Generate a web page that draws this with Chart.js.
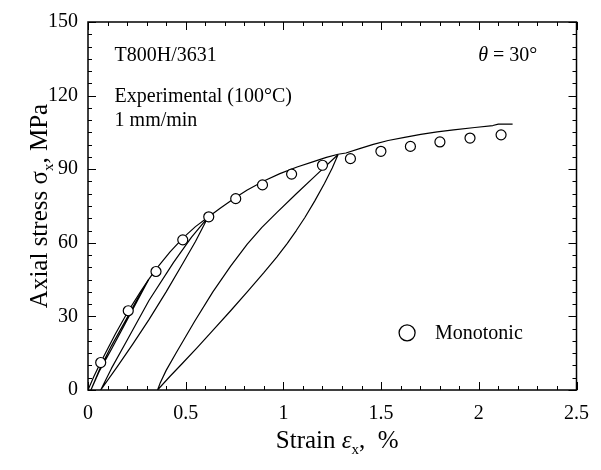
<!DOCTYPE html>
<html>
<head>
<meta charset="utf-8">
<script src="https://cdn.jsdelivr.net/npm/chart.js@4.4.1/dist/chart.umd.min.js"></script>
<style>
  html, body { margin: 0; padding: 0; background: #ffffff; }
  #wrap { width: 601px; height: 470px; }
</style>
</head>
<body>
<div id="wrap"><canvas id="chart" width="601" height="470"></canvas></div>
<script>
// Monotonic test (open circles)
const monoStrain = [0.065, 0.206, 0.348, 0.485, 0.618, 0.756, 0.893, 1.042, 1.200, 1.343, 1.499, 1.650, 1.801, 1.955, 2.114];
const monoStress = [11.2, 32.3, 48.3, 61.2, 70.6, 78.0, 83.6, 88.0, 91.6, 94.3, 97.3, 99.3, 101.1, 102.7, 104.0];

// Cyclic test: loading envelope
const envStrain = [0, 0.03, 0.065, 0.14, 0.206, 0.27, 0.31, 0.347, 0.42, 0.488, 0.55, 0.614,
                   0.68, 0.755, 0.815, 0.90, 0.982, 1.07, 1.15, 1.22, 1.28, 1.32, 1.39, 1.46,
                   1.536, 1.62, 1.703, 1.787, 1.871, 1.98, 2.072, 2.10, 2.173];
const envStress = [0, 5.5, 11.3, 22.8, 32.2, 40.2, 45.0, 49.2, 56.3, 62.1, 66.6, 70.4,
                   74.3, 78.5, 81.5, 85.2, 88.2, 90.9, 93.0, 94.8, 96.1, 96.6, 98.4, 100.1,
                   101.7, 103.0, 104.2, 105.2, 106.0, 107.0, 107.8, 108.4, 108.4];

// Cycle 1 (peak about 45 MPa): unloading then reloading
const loop1Strain = [0.31, 0.25, 0.19, 0.12, 0.06, 0.015, 0.06, 0.12, 0.19, 0.25, 0.31];
const loop1Stress = [45.0, 36.0, 27.0, 16.6, 8.0, 0, 8.6, 18.0, 28.0, 36.8, 45.0];

// Cycle 2 (peak about 70 MPa)
const loop2Strain = [0.614, 0.55, 0.488, 0.40, 0.312, 0.23, 0.15, 0.065, 0.12, 0.20, 0.312, 0.438, 0.53, 0.614];
const loop2Stress = [70.4, 60.5, 52.0, 40.0, 28.7, 18.8, 9.5, 0, 8.8, 20.3, 36.5, 52.0, 62.3, 70.4];

// Cycle 3 (peak about 96 MPa)
const loop3Strain = [1.28, 1.25, 1.21, 1.16, 1.11, 1.066, 1.02, 0.966, 0.90, 0.815, 0.73, 0.639, 0.56, 0.48, 0.42, 0.356,
                     0.37, 0.40, 0.45, 0.546, 0.639, 0.73, 0.815, 0.89, 0.966, 1.066, 1.17, 1.28];
const loop3Stress = [96.0, 90.5, 84.2, 77.0, 70.3, 65.0, 59.8, 54.2, 47.8, 40.0, 32.3, 24.3, 17.4, 10.6, 5.6, 0,
                     3.0, 8.0, 15.0, 28.0, 40.0, 50.5, 59.5, 66.3, 72.3, 80.0, 87.8, 96.0];

// Axis ticks
const xTickStep = 0.5, xMinorStep = 0.1;
const yTickStep = 30, yMinorStep = 5;

const SERIF = '"Liberation Serif", "DejaVu Serif", serif';

function pts(xs, ys) { return xs.map((x, i) => ({ x: x, y: ys[i] })); }

function curve(label, xs, ys) {
  return {
    label: label,
    data: pts(xs, ys),
    showLine: true,
    borderColor: '#000',
    borderWidth: 1.2,
    borderJoinStyle: 'round',
    pointRadius: 0,
    pointHoverRadius: 0,
    fill: false,
    tension: 0
  };
}

// measure / draw a run of text pieces (for subscripts and italics)
function richWidth(ctx, parts) {
  let w = 0;
  parts.forEach(p => { ctx.font = p.f; w += ctx.measureText(p.t).width; });
  return w;
}
function drawRich(ctx, parts, x, y) {
  let cx = x;
  parts.forEach(p => {
    ctx.font = p.f;
    ctx.fillText(p.t, cx, y + (p.dy || 0));
    cx += ctx.measureText(p.t).width;
  });
}

const framePlugin = {
  id: 'frameAndText',
  afterDraw(chart) {
    const ctx = chart.ctx;
    const xs = chart.scales.x, ys = chart.scales.y;
    const a = chart.chartArea;
    ctx.save();
    ctx.strokeStyle = '#000';
    ctx.fillStyle = '#000';

    // inward tick marks on all four sides
    ctx.lineWidth = 1;
    ctx.beginPath();
    const nx = Math.round((xs.max - xs.min) / xMinorStep);
    for (let i = 0; i <= nx; i++) {
      const v = xs.min + i * xMinorStep;
      const px = Math.round(xs.getPixelForValue(v)) + 0.5;
      const major = Math.abs(v / xTickStep - Math.round(v / xTickStep)) < 1e-6;
      const len = major ? 8 : 4;
      ctx.moveTo(px, a.bottom); ctx.lineTo(px, a.bottom - len);
      ctx.moveTo(px, a.top); ctx.lineTo(px, a.top + len);
    }
    const ny = Math.round((ys.max - ys.min) / yMinorStep);
    for (let i = 0; i <= ny; i++) {
      const v = ys.min + i * yMinorStep;
      const py = Math.round(ys.getPixelForValue(v)) + 0.5;
      const major = v % yTickStep === 0;
      const len = major ? 8 : 4;
      ctx.moveTo(a.left, py); ctx.lineTo(a.left + len, py);
      ctx.moveTo(a.right, py); ctx.lineTo(a.right - len, py);
    }
    ctx.stroke();

    // frame
    ctx.lineWidth = 1.5;
    ctx.strokeRect(a.left, a.top, a.right - a.left, a.bottom - a.top);

    // axis titles
    ctx.textBaseline = 'alphabetic';
    ctx.textAlign = 'left';
    const xTitle = [
      { t: 'Strain ', f: '25px ' + SERIF },
      { t: 'ε', f: 'italic 25px ' + SERIF },
      { t: 'x', f: '15px ' + SERIF, dy: 6 },
      { t: ',  %', f: '25px ' + SERIF }
    ];
    const xw = richWidth(ctx, xTitle);
    drawRich(ctx, xTitle, (a.left + a.right) / 2 + 5 - xw / 2, 448);

    const yTitle = [
      { t: 'Axial stress ', f: '25px ' + SERIF },
      { t: 'σ', f: '25px ' + SERIF },
      { t: 'x', f: '15px ' + SERIF, dy: 6 },
      { t: ', MPa', f: '25px ' + SERIF }
    ];
    const yw = richWidth(ctx, yTitle);
    ctx.save();
    ctx.translate(47, (a.top + a.bottom) / 2);
    ctx.rotate(-Math.PI / 2);
    drawRich(ctx, yTitle, -yw / 2, 0);
    ctx.restore();

    // specimen / test notes
    const f20 = '20px ' + SERIF;
    ctx.font = f20;
    const noteX = xs.getPixelForValue(0.136);
    ctx.fillText('T800H/3631', noteX, ys.getPixelForValue(134));
    ctx.fillText('Experimental (100°C)', noteX, ys.getPixelForValue(117.2));
    ctx.fillText('1 mm/min', noteX, ys.getPixelForValue(107.6));
    drawRich(ctx, [
      { t: 'θ', f: 'italic 20px ' + SERIF },
      { t: ' = 30°', f: f20 }
    ], xs.getPixelForValue(1.997), ys.getPixelForValue(134));

    // legend entry
    const lx = xs.getPixelForValue(1.633), ly = ys.getPixelForValue(23.3);
    ctx.lineWidth = 1.3;
    ctx.beginPath();
    ctx.arc(lx, ly, 8, 0, Math.PI * 2);
    ctx.fillStyle = '#fff';
    ctx.fill();
    ctx.stroke();
    ctx.fillStyle = '#000';
    ctx.font = f20;
    ctx.fillText('Monotonic', xs.getPixelForValue(1.776), ys.getPixelForValue(20.8));

    ctx.restore();
  }
};

new Chart(document.getElementById('chart'), {
  type: 'scatter',
  data: {
    datasets: [
      {
        label: 'Monotonic',
        data: pts(monoStrain, monoStress),
        showLine: false,
        pointStyle: 'circle',
        pointRadius: 5,
        pointHoverRadius: 5,
        pointBackgroundColor: '#fff',
        pointBorderColor: '#000',
        pointBorderWidth: 1.2
      },
      curve('Envelope', envStrain, envStress),
      curve('Cycle 1', loop1Strain, loop1Stress),
      curve('Cycle 2', loop2Strain, loop2Stress),
      curve('Cycle 3', loop3Strain, loop3Stress)
    ]
  },
  options: {
    responsive: false,
    animation: false,
    devicePixelRatio: 1,
    layout: { padding: { top: 15, right: 16, left: 0, bottom: 0 } },
    plugins: {
      legend: { display: false },
      tooltip: { enabled: false }
    },
    scales: {
      x: {
        type: 'linear',
        min: 0,
        max: 2.5,
        grid: { display: false, drawTicks: false },
        border: { display: false },
        ticks: {
          stepSize: xTickStep,
          color: '#000',
          padding: 12,
          maxRotation: 0,
          font: { family: SERIF, size: 20 },
          // plain numbers: 0, 0.5, 1, 1.5, 2, 2.5
          callback: v => String(Number(Number(v).toFixed(2)))
        },
        afterFit(scale) { scale.height = 80; }
      },
      y: {
        type: 'linear',
        min: 0,
        max: 150,
        grid: { display: false, drawTicks: false },
        border: { display: false },
        ticks: {
          stepSize: yTickStep,
          color: '#000',
          padding: 10,
          font: { family: SERIF, size: 20 }
        },
        afterFit(scale) { scale.width = 88; }
      }
    }
  },
  plugins: [framePlugin]
});
</script>
</body>
</html>
